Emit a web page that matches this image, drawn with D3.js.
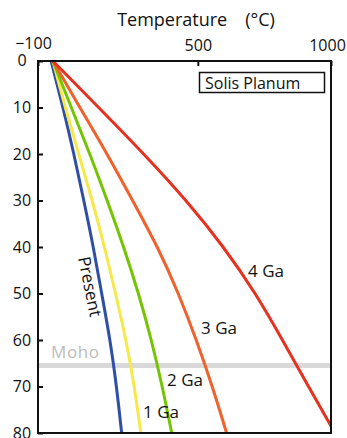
<!DOCTYPE html>
<html>
<head>
<meta charset="utf-8">
<script src="https://cdn.jsdelivr.net/npm/d3@7"></script>
<style>
  body { margin: 0; background: #fff; }
  text { font-family: "Open Sans", "Noto Sans", sans-serif; }
</style>
</head>
<body>
<script>

const width = 347;
const height = 438;

// depth in km, temperature in deg C for each geotherm
var depths = [0, 10, 20, 30, 40, 50, 60, 70, 80];

var present = [-51, -6, 35, 72, 108, 139, 171, 195, 214];
var ga1 = [-44, 2, 53, 104, 150, 191, 231, 262, 286];
var ga2 = [-44, 25, 95, 160, 222, 278, 326, 367, 402];
var ga3 = [-44, 57, 160, 255, 350, 428, 495, 555, 608];
var ga4 = [-44, 128, 298, 458, 598, 718, 818, 915, 1015];

var seriesNames = ["Present", "1 Ga", "2 Ga", "3 Ga", "4 Ga"];
var seriesColors = ["#2f4ea6", "#f6e84a", "#74c404", "#f0612c", "#e5311f"];

var xTicks = [-100, 500, 1000];
var yTicks = [0, 10, 20, 30, 40, 50, 60, 70, 80];
var mohoDepth = 65.5;

var margin = {top: 61, right: 16, bottom: 5, left: 38};

var x = d3.scaleLinear().domain([-100, 1000]).range([margin.left, width - margin.right]);
var y = d3.scaleLinear().domain([0, 80]).range([margin.top, height - margin.bottom]);

const svg = d3.select("body").append("svg")
  .attr("width", width)
  .attr("height", height);

svg.append("clipPath")
    .attr("id", "plot")
  .append("rect")
    .attr("x", x(-100))
    .attr("y", y(0))
    .attr("width", x(1000) - x(-100))
    .attr("height", y(80) - y(0));

// moho band
svg.append("line")
  .attr("x1", x(-100)).attr("x2", x(1000))
  .attr("y1", y(mohoDepth)).attr("y2", y(mohoDepth))
  .attr("stroke", "#d9d9d9")
  .attr("stroke-width", 5);

svg.append("text")
  .attr("x", 51).attr("y", y(mohoDepth) - 8)
  .attr("font-size", 17)
  .attr("letter-spacing", 0.6)
  .attr("fill", "#bcbcbc")
  .text("Moho");

var series = [present, ga1, ga2, ga3, ga4];

var line = d3.line()
  .x(function(d) { return x(d[0]); })
  .y(function(d) { return y(d[1]); })
  .curve(d3.curveBasis);

svg.append("g")
    .attr("clip-path", "url(#plot)")
  .selectAll("path")
  .data(series)
  .enter().append("path")
    .attr("d", function(s) { return line(s.map(function(t, i) { return [t, depths[i]]; })); })
    .attr("fill", "none")
    .attr("stroke", function(s, i) { return seriesColors[i]; })
    .attr("stroke-width", 3);

// frame
svg.append("rect")
  .attr("x", x(-100)).attr("y", y(0))
  .attr("width", x(1000) - x(-100))
  .attr("height", y(80) - y(0))
  .attr("fill", "none")
  .attr("stroke", "#111")
  .attr("stroke-width", 2);

// axes, ticks pointing inward
var yAxis = d3.axisLeft(y).tickValues(yTicks).tickSize(-5).tickPadding(0);
var gy = svg.append("g")
  .attr("transform", "translate(" + x(-100) + ",0)")
  .call(yAxis);
gy.select(".domain").remove();
gy.selectAll(".tick line").attr("stroke", "#111").attr("stroke-width", 2);
gy.selectAll(".tick text")
  .attr("x", -16)
  .attr("text-anchor", "middle")
  .attr("font-size", 16)
  .attr("font-family", "Open Sans")
  .attr("fill", "#111");
gy.selectAll(".tick").filter(function(d) { return d == 0; }).select("text").attr("dy", "0.25em");

var xAxis = d3.axisTop(x).tickValues(xTicks).tickFormat(d3.format("d")).tickSize(-5).tickPadding(0);
var gx = svg.append("g")
  .attr("transform", "translate(0," + y(0) + ")")
  .call(xAxis);
gx.select(".domain").remove();
gx.selectAll(".tick line").attr("stroke", "#111").attr("stroke-width", 2);
gx.selectAll(".tick text")
  .attr("y", -10)
  .attr("font-size", 16)
  .attr("font-family", "Open Sans")
  .attr("fill", "#111");
gx.selectAll(".tick").filter(function(d) { return d == -100; }).select("text").attr("dx", -5).attr("y", -12);
gx.selectAll(".tick").filter(function(d) { return d == 1000; }).select("text").attr("dx", -4);

// title
svg.append("text")
  .attr("x", 196).attr("y", 26)
  .attr("text-anchor", "middle")
  .attr("font-size", 18)
  .attr("fill", "#111")
  .text("Temperature\u2003(\u00b0C)");

// legend box
svg.append("rect")
  .attr("x", 199.5).attr("y", 72.5)
  .attr("width", 125).attr("height", 20)
  .attr("fill", "#fff")
  .attr("stroke", "#111")
  .attr("stroke-width", 1.5);
svg.append("text")
  .attr("x", 205).attr("y", 89)
  .attr("font-size", 16)
  .attr("fill", "#111")
  .text("Solis Planum");

// curve labels
var labelPos = [
  {x: 78, y: 258, rot: 78.5},
  {x: 143, y: 418, rot: 0},
  {x: 167, y: 386, rot: 0},
  {x: 201, y: 334, rot: 0},
  {x: 248, y: 277, rot: 0}
];

svg.append("g")
  .selectAll("text")
  .data(seriesNames)
  .enter().append("text")
    .attr("transform", function(d, i) {
      var p = labelPos[i];
      return "translate(" + p.x + "," + p.y + ") rotate(" + p.rot + ")";
    })
    .attr("font-size", 17)
    .attr("fill", "#111")
    .text(function(d) { return d; });

</script>
</body>
</html>
